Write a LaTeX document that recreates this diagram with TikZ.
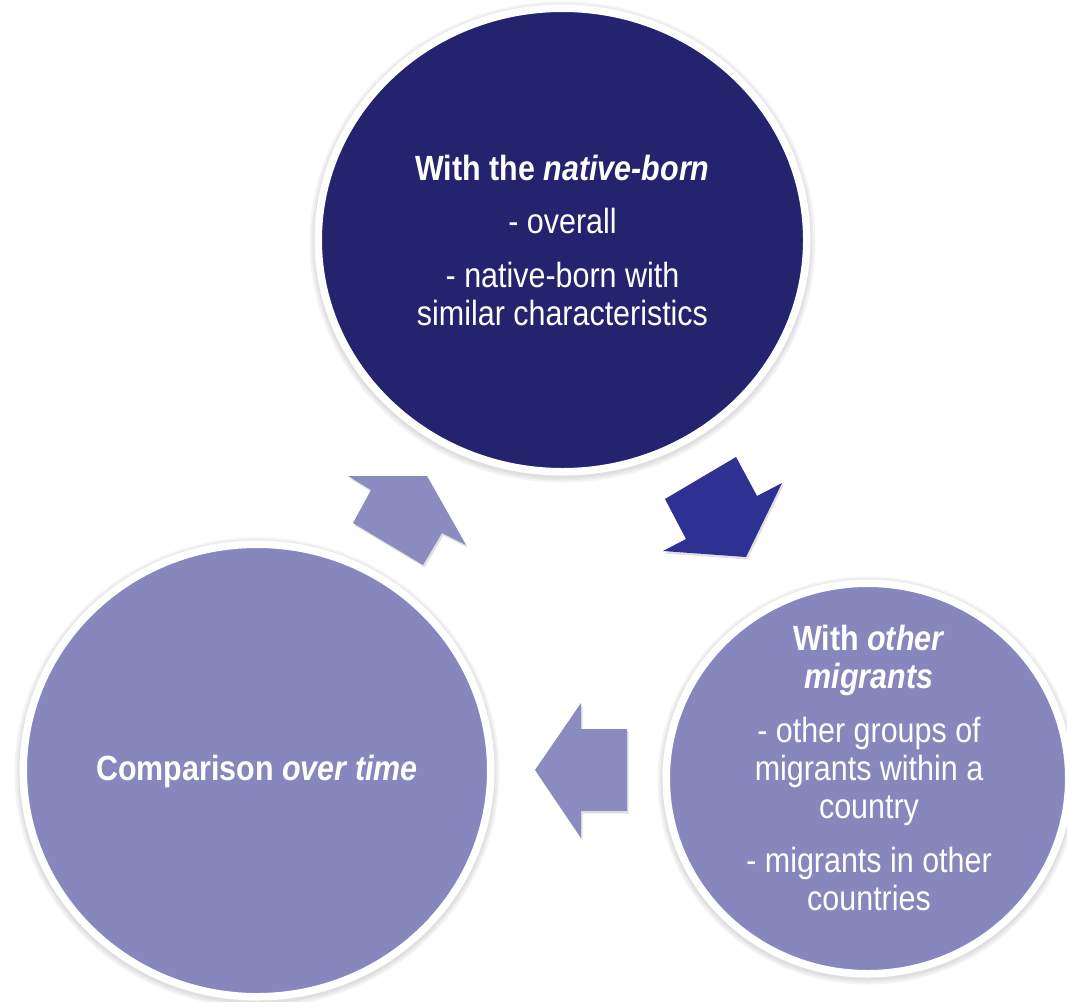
\documentclass[tikz,border=0pt]{standalone}
\usepackage{fontspec}
\setmainfont[FakeStretch=0.87]{Liberation Sans}
\usetikzlibrary{shapes.geometric}
\definecolor{navy}{RGB}{36,36,110}
\definecolor{arrowdark}{RGB}{46,49,146}
\definecolor{lav}{RGB}{134,135,188}
\definecolor{lavarrow}{RGB}{138,139,191}
\newcommand\pathDark{(665,499) -- (736,457) -- (757,496) -- (782,483) -- (746,557) -- (663,551) -- (686,539) -- cycle}
\newcommand\pathUp{(348,476) -- (427,476) -- (466,545) -- (442,533) -- (423,565) -- (353,523) -- (371,490) -- cycle}
\newcommand\pathLeft{(535,770) -- (581,703) -- (581,729) -- (627,729) -- (627,811) -- (581,811) -- (581,838) -- cycle}
\begin{document}
\begin{tikzpicture}[x=1pt,y=-1pt,
  bubble/.style={ellipse, draw=white, line width=7.5pt, inner sep=0pt},
  bubbletext/.style={text=white, font=\fontsize{35}{38}\selectfont, align=center, inner sep=0pt, anchor=base},
  glow/.style={fill=black, fill opacity=0.045, draw=none},
  arrowshadow/.style={fill=black, fill opacity=0.12, draw=none}]
\useasboundingbox (0,0) rectangle (1067,1001);
% soft shadows of the circles
\foreach \d in {1,3,5}{
  \fill[glow] (562.5,242) ellipse [x radius=248+\d, y radius=235.5+\d];
  \fill[glow] (257,772.5) ellipse [x radius=237.5+\d, y radius=230+\d];
  \fill[glow] (867.5,780.5) ellipse [x radius=205+\d, y radius=199+\d];
}
% circles
\node[bubble, fill=navy, minimum width=488.5pt, minimum height=463.5pt] (native) at (562.5,240) {};
\node[bubble, fill=lav, minimum width=467.5pt, minimum height=452.5pt] (time) at (257,770.5) {};
\node[bubble, fill=lav, minimum width=402.5pt, minimum height=390.5pt] (others) at (867.5,778.5) {};
% arrow shadows
\begin{scope}[shift={(1.5,2.5)}]
  \fill[arrowshadow] \pathDark;
  \fill[arrowshadow] \pathUp;
  \fill[arrowshadow] \pathLeft;
\end{scope}
% arrows
\fill[arrowdark] \pathDark;
\fill[lavarrow] \pathUp;
\fill[lavarrow] \pathLeft;
% texts (base anchor = baseline of the last line)
\node[bubbletext] (nativetext) at (562.5,325) {\textbf{With the \textit{native-born}}\\[15pt]- overall\\[16pt]- native-born with\\similar characteristics};
\node[bubbletext] (otherstext) at (869,910) {\textbf{With \textit{other}}\\\textbf{\textit{migrants}}\\[16pt]- other groups of\\migrants within a\\country\\[16pt]- migrants in other\\countries};
\node[bubbletext] (timetext) at (257,780) {\textbf{Comparison \textit{over time}}};
\end{tikzpicture}
\end{document}
